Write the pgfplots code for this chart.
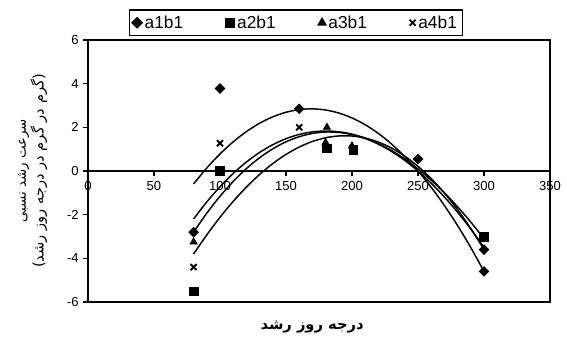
\documentclass[border=0pt]{standalone}
\usepackage{pgfplots}
\pgfplotsset{compat=1.18}
\usepackage{fontspec}
\setmainfont{Liberation Sans}
\newfontfamily\arabicfont[Script=Arabic]{DejaVu Sans}
\TeXXeTstate=1

\begin{document}
\begin{tikzpicture}[x=0.75pt,y=0.75pt]
\begin{axis}[
    name=main,
    scale only axis,
    width=346.5pt, height=196.5pt,
    xmin=0, xmax=350, ymin=-6, ymax=6,
    xtick=\empty,
    ytick={-6,-4,...,6},
    ytick pos=left,
    tick align=outside,
    major tick length=3.5pt,
    axis line style={line width=1.4pt},
    every tick/.style={black, line width=1pt},
    tick label style={font=\fontsize{9.8}{11}\selectfont},
    /pgf/number format/assume math mode=true,
    ylabel={{\fontsize{10}{15}\selectfont\arabicfont\beginR سرعت رشد نسبی\endR}\\
            {\fontsize{11}{15}\selectfont\arabicfont\beginR (گرم در گرم در درجه روز رشد)\endR}},
    ylabel style={at={(axis description cs:-0.12,0.5)}, anchor=center,
                  rotate=0, align=center},
    xlabel={\arabicfont\bfseries\beginR درجه روز رشد\endR},
    xlabel style={at={(axis description cs:0.485,-0.095)}, anchor=center,
                  font=\fontsize{11}{13}\selectfont},
    legend style={at={(0.45,1.015)}, anchor=south, draw=black,
                  line width=1.1pt, font=\fontsize{13}{14}\selectfont,
                  inner sep=2pt, legend cell align=left},
    legend columns=4,
    /tikz/every even column/.append style={column sep=30pt},
]

% trendlines
\addplot[black, line width=1.1pt, smooth, forget plot] coordinates {
    (80,-0.590) (90,0.139) (100,0.781) (110,1.337) (120,1.805) (130,2.187)
    (140,2.482) (150,2.691) (160,2.812) (170,2.847) (180,2.795) (190,2.656)
    (200,2.430) (210,2.118) (220,1.719) (230,1.233) (240,0.660) (250,0)
    (260,-0.746) (270,-1.580) (280,-2.500) (290,-3.507) (300,-4.600)};
\addplot[black, line width=1.1pt, smooth, forget plot] coordinates {
    (80,-2.200) (90,-1.415) (100,-0.720) (110,-0.111) (120,0.411) (130,0.850)
    (140,1.205) (150,1.480) (160,1.675) (170,1.792) (180,1.832) (190,1.797)
    (200,1.689) (210,1.508) (220,1.258) (230,0.938) (240,0.551) (250,0.098)
    (260,-0.419) (270,-0.999) (280,-1.640) (290,-2.340) (300,-3.100)};
\addplot[black, line width=1.1pt, smooth, forget plot] coordinates {
    (80,-2.800) (90,-1.931) (100,-1.158) (110,-0.478) (120,0.110) (130,0.608)
    (140,1.016) (150,1.337) (160,1.571) (170,1.720) (180,1.785) (190,1.767)
    (200,1.667) (210,1.489) (220,1.231) (230,0.896) (240,0.485) (250,0)
    (260,-0.559) (270,-1.189) (280,-1.891) (290,-2.661) (300,-3.500)};
\addplot[black, line width=1.1pt, smooth, forget plot] coordinates {
    (80,-3.800) (90,-2.924) (100,-2.120) (110,-1.390) (120,-0.736) (130,-0.158)
    (140,0.341) (150,0.760) (160,1.098) (170,1.353) (180,1.522) (190,1.606)
    (200,1.602) (210,1.509) (220,1.325) (230,1.049) (240,0.679) (250,0.213)
    (260,-0.349) (270,-1.010) (280,-1.771) (290,-2.634) (300,-3.600)};

% a1b1
\addplot[only marks, mark=square*, mark size=2.6pt,
    mark options={rotate=45, fill=black, draw=black}] coordinates {
    (80,-2.80) (100,3.78) (160,2.85) (250,0.55) (300,-3.60) (300,-4.60)};
\addlegendentry{a1b1}
% a2b1
\addplot[only marks, mark=square*, mark size=3.2pt,
    mark options={fill=black, draw=black}] coordinates {
    (80,-5.50) (100,0.00) (181,1.04) (201,0.98) (300,-3.02)};
\addlegendentry{a2b1}
% a3b1
\addplot[only marks, mark=triangle*, mark size=3.2pt,
    mark options={fill=black, draw=black}] coordinates {
    (80,-3.25) (181,2.00) (180,1.30) (200,1.15)};
\addlegendentry{a3b1}
% a4b1
\addplot[only marks, mark=x, mark size=3.2pt,
    mark options={draw=black, line width=1.4pt}] coordinates {
    (80,-4.40) (100,1.27) (160,2.00)};
\addlegendentry{a4b1}
\end{axis}

% x axis through zero with its tick labels
\begin{axis}[
    scale only axis,
    width=346.5pt, height=196.5pt,
    xmin=0, xmax=350, ymin=-6, ymax=6,
    axis x line=middle, axis y line=none,
    axis line style={-, line width=1.4pt},
    xtick={0,50,...,350}, ytick=\empty,
    hide obscured x ticks=false,
    tick align=outside,
    major tick length=3.5pt,
    every tick/.style={black, line width=1pt},
    tick label style={font=\fontsize{9.8}{11}\selectfont},
    /pgf/number format/assume math mode=true,
    xticklabel style={anchor=north, yshift=-1pt},
]
\end{axis}

\path (main.south west) ++(-88,-45);
\path (main.north east) ++(17,40);
\end{tikzpicture}
\end{document}
